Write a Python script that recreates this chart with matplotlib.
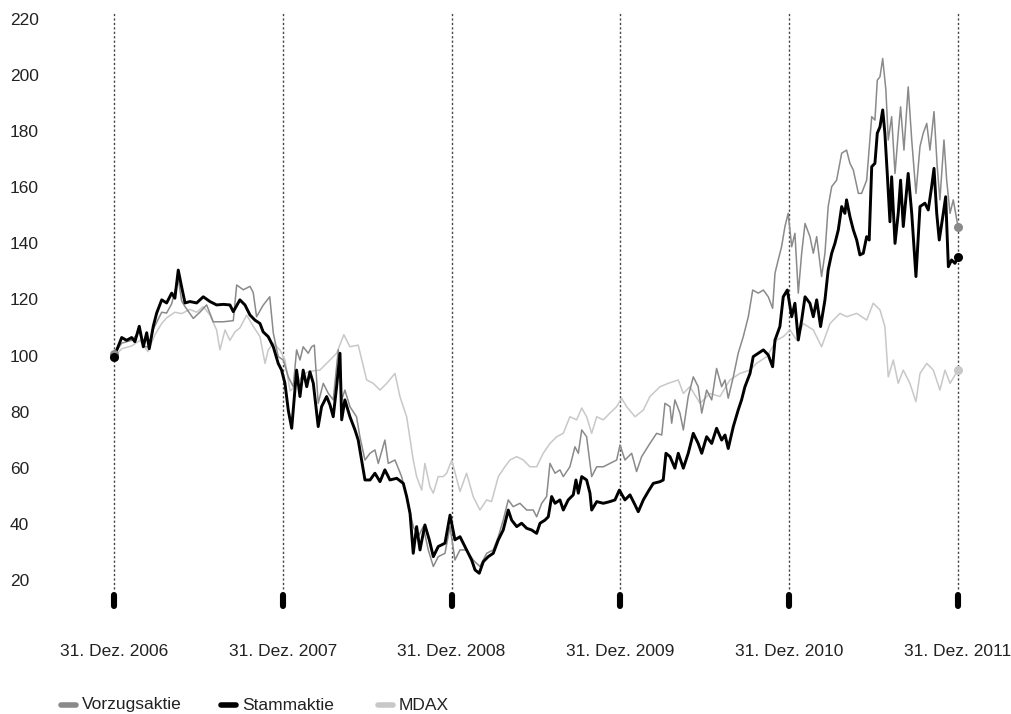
import matplotlib
matplotlib.use("Agg")
import matplotlib.pyplot as plt
from matplotlib.transforms import blended_transform_factory

plt.rcParams["font.family"] = ["Liberation Sans", "DejaVu Sans"]

# Zeit in Jahren ab 31. Dez. 2006
jahre = [0, 1, 2, 3, 4, 5]
x_labels = ["31. Dez. 2006", "31. Dez. 2007", "31. Dez. 2008",
            "31. Dez. 2009", "31. Dez. 2010", "31. Dez. 2011"]
y_ticks = [20, 40, 60, 80, 100, 120, 140, 160, 180, 200, 220]

t_stamm = [0.000, 0.046, 0.075, 0.105, 0.124, 0.150, 0.174, 0.194, 0.209, 0.233,
           0.253, 0.283, 0.312, 0.342, 0.361, 0.381, 0.401, 0.421, 0.450, 0.490,
           0.529, 0.569, 0.608, 0.648, 0.687, 0.707, 0.746, 0.776, 0.806, 0.835,
           0.865, 0.884, 0.914, 0.944, 0.973, 0.993, 1.013, 1.033, 1.053, 1.082,
           1.102, 1.121, 1.142, 1.161, 1.181, 1.210, 1.230, 1.260, 1.280, 1.299,
           1.319, 1.339, 1.349, 1.368, 1.398, 1.428, 1.447, 1.467, 1.487, 1.517,
           1.546, 1.576, 1.605, 1.635, 1.675, 1.714, 1.734, 1.754, 1.773, 1.793,
           1.813, 1.842, 1.868, 1.892, 1.921, 1.961, 1.991, 2.020, 2.050, 2.089,
           2.119, 2.139, 2.164, 2.188, 2.217, 2.247, 2.277, 2.306, 2.336, 2.356,
           2.386, 2.415, 2.445, 2.474, 2.504, 2.524, 2.553, 2.573, 2.593, 2.613,
           2.642, 2.662, 2.691, 2.721, 2.737, 2.751, 2.771, 2.800, 2.820, 2.830,
           2.860, 2.899, 2.938, 2.968, 2.994, 3.027, 3.057, 3.087, 3.106, 3.136,
           3.165, 3.195, 3.235, 3.254, 3.270, 3.294, 3.323, 3.343, 3.373, 3.402,
           3.432, 3.461, 3.482, 3.511, 3.541, 3.570, 3.600, 3.620, 3.639, 3.669,
           3.698, 3.718, 3.738, 3.768, 3.787, 3.817, 3.847, 3.876, 3.902, 3.916,
           3.945, 3.965, 3.989, 4.015, 4.034, 4.054, 4.074, 4.094, 4.123, 4.143,
           4.163, 4.186, 4.212, 4.231, 4.252, 4.271, 4.291, 4.311, 4.330, 4.340,
           4.360, 4.380, 4.400, 4.419, 4.439, 4.459, 4.474, 4.489, 4.508, 4.522,
           4.538, 4.554, 4.567, 4.581, 4.597, 4.607, 4.627, 4.646, 4.660, 4.676,
           4.705, 4.726, 4.751, 4.775, 4.804, 4.824, 4.844, 4.858, 4.874, 4.889,
           4.913, 4.927, 4.943, 4.962, 4.982, 5.000]
stamm = [100, 107, 106, 107, 105.5, 111, 103.7, 108.7, 103, 111,
         115.7, 120.4, 119.3, 122.8, 121, 131, 125, 119.3, 119.8, 119.3,
         121.5, 119.8, 118.6, 118.8, 118.6, 116.2, 120.4, 118.6, 115, 113.2,
         112, 109, 107.3, 103.7, 97.8, 95.4, 90.7, 81, 74.7, 95.4,
         86, 95.4, 89.5, 94.8, 90.7, 75.3, 82.4, 86, 83, 78.8,
         89.5, 101.4, 77.7, 84.8, 78.8, 74.1, 70.5, 63.4, 56.3, 56.3,
         58.7, 55.7, 59.9, 56.3, 56.9, 55.1, 50.4, 44.4, 30.2, 39.7,
         31.4, 40.3, 35, 29, 32.6, 33.8, 43.8, 35, 36.1, 31.4,
         27.8, 24.3, 23.1, 27.2, 29, 30.2, 35, 38.5, 45.6, 42,
         39.7, 40.9, 39.1, 38.5, 37.3, 40.9, 42, 43.2, 50.4, 48,
         49.2, 45.6, 49.2, 51, 56.3, 51.6, 57.5, 56.3, 51.6, 45.6,
         48.6, 48, 48.6, 49.2, 52.7, 49.2, 51, 47.4, 45, 49.2,
         52.2, 55.1, 55.7, 56.3, 65.8, 64.6, 60.5, 65.8, 60.5, 65.8,
         72.9, 69.3, 65.8, 71.7, 69.3, 74.7, 70.5, 72.3, 67.5, 75.3,
         81.2, 84.8, 89.5, 94.2, 100.2, 101.4, 102.6, 100.8, 96.6, 106.1,
         110.9, 121.5, 123.9, 114.4, 119.2, 106.1, 113.2, 121.5, 119.2, 114.4,
         120.4, 110.9, 120.4, 131, 137, 140.5, 145.3, 153.6, 151.2, 156,
         150, 145.3, 141.7, 136.4, 137, 142.9, 141.7, 167.8, 169, 179.7,
         182, 188, 179.7, 165.4, 148.2, 164.2, 140.5, 151.2, 163, 146.5,
         165.4, 151.2, 128.7, 153.6, 154.8, 152.4, 160.7, 167.2, 151.2, 141.7,
         151.2, 157.1, 132.2, 134.6, 133.4, 135.8]

t_vorzug = [0.000, 0.046, 0.105, 0.150, 0.174, 0.209, 0.233, 0.283, 0.312, 0.342,
            0.381, 0.401, 0.421, 0.470, 0.509, 0.549, 0.588, 0.648, 0.707, 0.727,
            0.766, 0.806, 0.825, 0.845, 0.884, 0.923, 0.944, 0.973, 1.003, 1.033,
            1.062, 1.082, 1.102, 1.121, 1.151, 1.171, 1.187, 1.210, 1.240, 1.270,
            1.299, 1.329, 1.349, 1.368, 1.398, 1.437, 1.457, 1.487, 1.517, 1.546,
            1.566, 1.605, 1.625, 1.665, 1.704, 1.734, 1.773, 1.803, 1.832, 1.862,
            1.892, 1.921, 1.961, 1.991, 2.020, 2.050, 2.089, 2.128, 2.168, 2.208,
            2.247, 2.277, 2.306, 2.336, 2.365, 2.405, 2.445, 2.484, 2.504, 2.534,
            2.563, 2.583, 2.613, 2.642, 2.662, 2.701, 2.731, 2.751, 2.771, 2.800,
            2.830, 2.860, 2.899, 2.938, 2.978, 2.998, 3.027, 3.067, 3.096, 3.126,
            3.175, 3.215, 3.245, 3.264, 3.294, 3.304, 3.323, 3.353, 3.373, 3.402,
            3.432, 3.461, 3.482, 3.511, 3.541, 3.570, 3.600, 3.620, 3.639, 3.669,
            3.698, 3.728, 3.758, 3.784, 3.817, 3.847, 3.876, 3.902, 3.916, 3.935,
            3.955, 3.975, 3.994, 4.015, 4.034, 4.054, 4.074, 4.094, 4.123, 4.143,
            4.163, 4.192, 4.212, 4.231, 4.252, 4.281, 4.311, 4.340, 4.360, 4.380,
            4.410, 4.429, 4.459, 4.489, 4.508, 4.522, 4.538, 4.554, 4.573, 4.587,
            4.607, 4.627, 4.646, 4.660, 4.680, 4.705, 4.726, 4.751, 4.775, 4.794,
            4.815, 4.834, 4.858, 4.877, 4.893, 4.917, 4.933, 4.953, 4.972, 5.000]
vorzug = [101, 105, 106, 109, 104, 103.5, 110, 116, 115.7, 119,
          128, 120, 118, 113.8, 116, 118.6, 112.6, 112.6, 113, 125.7,
          124, 125.2, 123, 114.4, 118.5, 121.5, 108.6, 100.2, 99, 93,
          89.5, 102.6, 99, 103.7, 101.4, 103.7, 104.3, 83.6, 90.7, 87.1,
          84.8, 102.6, 84.8, 88.3, 82.4, 78.8, 71.7, 63.4, 65.8, 67,
          62.2, 70.5, 62.2, 63.4, 57.5, 50.4, 39.7, 36.1, 39.7, 31.4,
          25.5, 29, 30.2, 39.7, 27.8, 31.4, 31.4, 27.8, 25.5, 30.2,
          31.4, 36.1, 42, 49.2, 46.8, 48, 45.6, 45.6, 43.2, 48,
          50.4, 62.2, 58.7, 59.9, 57.5, 61, 68.1, 65.8, 74.1, 71.7,
          57.5, 61, 61, 62.2, 63.4, 68.8, 63.4, 65.8, 59.3, 64.6,
          69.3, 72.9, 72.3, 83.6, 82.4, 76.5, 84.8, 80.1, 74.1, 86,
          93, 89.5, 80.1, 88.3, 84.8, 96, 89.5, 91.9, 85.4, 93,
          101.4, 107.3, 114.4, 123.9, 122.8, 123.9, 121.5, 117.4, 129.9, 134.6,
          139.3, 146.5, 151.2, 139.3, 144.1, 122.8, 137, 147.6, 142.9, 137,
          142.9, 128.7, 137, 153.6, 160.7, 163, 172.6, 173.7, 169, 166.6,
          158.3, 158.3, 163, 185.6, 184.4, 198.6, 199.8, 206.3, 195, 177.3,
          185.6, 165.4, 179.7, 189.1, 173.7, 196.2, 177.3, 158.3, 175, 179.7,
          183.2, 173.7, 187.4, 167.8, 156, 177.3, 163, 151.2, 156, 146.5]

t_mdax = [0.000, 0.046, 0.105, 0.154, 0.201, 0.243, 0.283, 0.312, 0.361, 0.401,
          0.450, 0.490, 0.529, 0.569, 0.608, 0.628, 0.658, 0.687, 0.717, 0.746,
          0.786, 0.825, 0.865, 0.895, 0.914, 0.944, 0.983, 1.013, 1.043, 1.082,
          1.121, 1.161, 1.220, 1.280, 1.319, 1.362, 1.398, 1.447, 1.497, 1.536,
          1.576, 1.616, 1.665, 1.694, 1.734, 1.773, 1.793, 1.823, 1.842, 1.872,
          1.892, 1.921, 1.951, 1.971, 2.001, 2.050, 2.089, 2.128, 2.168, 2.208,
          2.237, 2.277, 2.316, 2.346, 2.386, 2.425, 2.464, 2.504, 2.543, 2.583,
          2.623, 2.662, 2.701, 2.741, 2.771, 2.800, 2.830, 2.860, 2.899, 2.938,
          2.978, 3.007, 3.037, 3.087, 3.136, 3.175, 3.235, 3.284, 3.343, 3.373,
          3.412, 3.472, 3.531, 3.590, 3.649, 3.708, 3.768, 3.807, 3.867, 3.926,
          3.965, 4.005, 4.044, 4.083, 4.143, 4.192, 4.242, 4.301, 4.340, 4.400,
          4.459, 4.498, 4.538, 4.567, 4.587, 4.617, 4.646, 4.676, 4.715, 4.751,
          4.775, 4.815, 4.854, 4.893, 4.923, 4.953, 5.000]
mdax = [100, 103, 104, 106, 102, 108, 112, 114, 116, 115.5,
        117, 116, 118, 115, 109.7, 102.6, 109.7, 106, 109, 110.4,
        115, 111, 107.3, 97.8, 102.6, 105, 102.6, 99, 88, 90,
        94, 95, 95.4, 99, 101.4, 108, 103.7, 104.3, 91.9, 90.7,
        88.3, 90.7, 94.2, 86, 78.8, 63.4, 57.5, 52.7, 62.2, 53.9,
        51.6, 57.5, 57.5, 58.7, 63.4, 52.2, 58.7, 50.4, 45.6, 49.2,
        48.6, 57.5, 61, 63.4, 64.6, 63.4, 61, 61, 65.8, 69.3,
        71.7, 72.9, 78.8, 77.7, 81.9, 78.8, 72.9, 78.8, 77.7, 80.1,
        82.4, 85.4, 82.4, 78.8, 81.2, 86, 89.5, 90.7, 91.9, 87.1,
        89.5, 83.6, 87.1, 86, 91.9, 94.2, 95.4, 97.8, 100.2, 106.1,
        107.3, 109.7, 106.1, 112, 109.7, 103.7, 112, 115.6, 114.4, 115.6,
        113.2, 119.2, 116.8, 110.9, 93, 99, 90.7, 95.4, 90.7, 84.2,
        94.2, 97.8, 95.4, 88.3, 95.4, 90.7, 95.4]

c_vorzug = "#8a8a8a"
c_stamm = "#000000"
c_mdax = "#c8c8c8"
c_text = "#222222"

fig = plt.figure(figsize=(10.12, 7.14), dpi=100)
ax = fig.add_axes([0, 0.1377, 1, 0.85])
ax.set_xlim(-0.675, 5.32)
ax.set_ylim(8, 224)
ax.axis("off")

# gepunktete Jahreslinien und Markierungen unten
for j in jahre:
    ax.plot([j, j], [17.5, 222.8], color="#444444", lw=1.0,
            linestyle=(0, (1.6, 1.6)), zorder=1)
    ax.plot([j, j], [11.6, 15.2], color="#000000", lw=4.4,
            solid_capstyle="round", zorder=1)

ax.plot(t_mdax, mdax, color=c_mdax, lw=1.1, zorder=2)
ax.plot(t_vorzug, vorzug, color=c_vorzug, lw=1.1, zorder=3)
ax.plot(t_stamm, stamm, color=c_stamm, lw=2.1, zorder=4)

# Start- und Endpunkte
for t, v, c, z in [(t_mdax, mdax, c_mdax, 5), (t_vorzug, vorzug, c_vorzug, 6),
                   (t_stamm, stamm, c_stamm, 7)]:
    ax.plot([t[0], t[-1]], [v[0], v[-1]], "o", color=c, ms=6.5, mec="none", zorder=z)

# Achsenbeschriftung y
tr_y = blended_transform_factory(fig.transFigure, ax.transData)
for v in y_ticks:
    ax.text(10 / 1012, v, str(v), transform=tr_y, ha="left", va="center",
            fontsize=12.5, color=c_text)

# Achsenbeschriftung x
tr_x = blended_transform_factory(ax.transData, fig.transFigure)
for j, lab in zip(jahre, x_labels):
    ax.text(j, 1 - 652 / 714, lab, transform=tr_x, ha="center", va="center",
            fontsize=12.5, color=c_text)

# Legende
legende = [("Vorzugsaktie", c_vorzug, 61), ("Stammaktie", c_stamm, 221),
           ("MDAX", c_mdax, 378)]
ly = 1 - 705 / 714
for name, c, lx in legende:
    fig.add_artist(plt.Line2D([lx / 1012, (lx + 15) / 1012], [ly, ly], color=c,
                              lw=4, solid_capstyle="round"))
    fig.text((lx + 21) / 1012, ly, name, ha="left", va="center",
             fontsize=12.5, color=c_text)

fig.savefig("out.png", dpi=100)
